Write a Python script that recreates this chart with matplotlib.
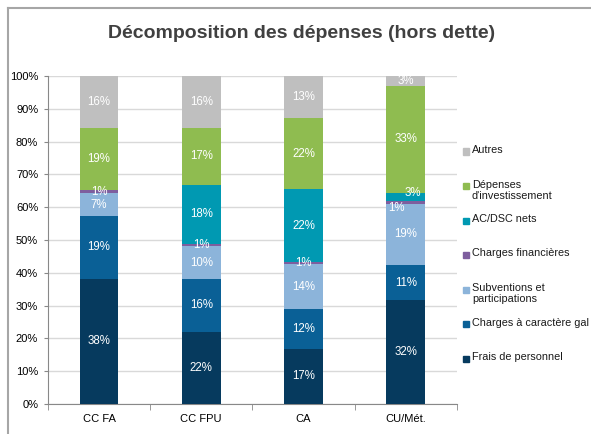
import matplotlib.pyplot as plt
from matplotlib.lines import Line2D
from matplotlib.patches import Rectangle
import numpy as np

plt.rcParams['font.family'] = ['Liberation Sans', 'DejaVu Sans']

categories = ["CC FA", "CC FPU", "CA", "CU/Mét."]

# stacked from bottom to top
series = [
    "Frais de personnel",
    "Charges à caractère gal",
    "Subventions et\nparticipations",
    "Charges financières",
    "AC/DSC nets",
    "Dépenses\nd'investissement",
    "Autres",
]
frais = [38.2, 22.1, 16.8, 31.6]
charges_gal = [19.1, 16.0, 12.2, 10.8]
subventions = [7.0, 10.0, 13.6, 18.6]
charges_fin = [0.9, 0.8, 0.8, 0.8]
ac_dsc = [0.0, 17.9, 22.0, 2.6]
investissement = [18.9, 17.3, 21.8, 32.6]
autres = [15.9, 15.9, 12.8, 3.0]

colors = ["#063A5E", "#0A6096", "#8CB4DA", "#7E5E9E", "#0099B2", "#8FBC50", "#BFBFBF"]

values = [frais, charges_gal, subventions, charges_fin, ac_dsc, investissement, autres]

fig = plt.figure(figsize=(5.91, 4.34), dpi=100)
ax = fig.add_axes([0.081, 0.069, 0.692, 0.756])

x = np.arange(len(categories))
bottom = np.zeros(len(categories))
# small label nudges (points) for crowded segments of CU/Mét.
nudges = {(3, 3): (-7, -4), (3, 4): (5, 3)}
for i, (vals, col) in enumerate(zip(values, colors)):
    vals = np.array(vals)
    ax.bar(x, vals, 0.38, bottom=bottom, color=col, zorder=3)
    for j, v in enumerate(vals):
        if v > 0:
            dx, dy = nudges.get((j, i), (0, 0))
            ax.annotate(f"{v:.0f}%", (x[j], bottom[j] + v / 2), xytext=(dx, dy),
                        textcoords="offset points", ha="center", va="center",
                        color="white", fontsize=8.3, zorder=4)
    bottom += vals

ax.set_xlim(-0.5, 3.5)
ax.set_ylim(0, 100)
ax.set_yticks(np.arange(0, 101, 10))
ax.set_yticklabels([f"{t}%" for t in range(0, 101, 10)], fontsize=8)
ax.set_xticks(x)
ax.set_xticklabels(categories, fontsize=8)
ax.set_xticks(np.arange(-0.5, 3.6, 1), minor=True)
ax.tick_params(axis="x", which="major", length=0, pad=7)
ax.tick_params(axis="x", which="minor", length=4, color="#888888")
ax.tick_params(axis="y", length=3, color="#888888", pad=4)
ax.yaxis.grid(True, color="#D9D9D9", linewidth=1, zorder=0)
for s in ["top", "right"]:
    ax.spines[s].set_visible(False)
for s in ["left", "bottom"]:
    ax.spines[s].set_color("#888888")

fig.text(0.51, 0.922, "Décomposition des dépenses (hors dette)",
         ha="center", va="center", fontsize=14, fontweight="bold",
         color="#404040")

# legend, drawn top to bottom in reverse stacking order
H = 434
for k, (name, col) in enumerate(zip(series[::-1], colors[::-1])):
    ym = 151 + k * 34.5
    fig.add_artist(Rectangle((463 / 591, (H - ym - 3.5) / H), 6 / 591, 6 / H,
                             transform=fig.transFigure, color=col))
    fig.text(472 / 591, (H - ym + 6) / H, name, ha="left", va="top",
             fontsize=7.8, color="#1A1A1A", linespacing=1.15)

# outer frame
fig.add_artist(Line2D([8 / 591, 8 / 591], [0, (H - 8) / H], color="#A6A6A6", lw=1.5,
                      transform=fig.transFigure))
fig.add_artist(Line2D([8 / 591, 1], [(H - 8) / H, (H - 8) / H], color="#A6A6A6", lw=1.5,
                      transform=fig.transFigure))

fig.savefig("out.png", dpi=100)
